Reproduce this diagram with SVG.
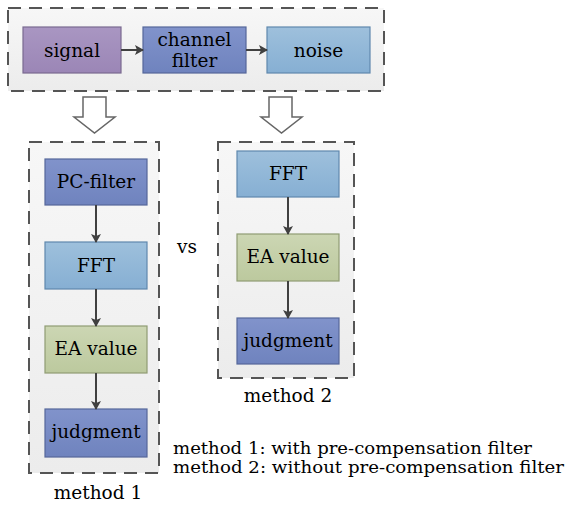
<svg xmlns="http://www.w3.org/2000/svg" width="565" height="506" viewBox="0 0 565 506">
<defs>
<linearGradient id="gBg" x1="0" y1="0" x2="0" y2="1"><stop offset="0" stop-color="#f7f7f7"/><stop offset="1" stop-color="#ececec"/></linearGradient>
<linearGradient id="gPurple" x1="0" y1="0" x2="0" y2="1"><stop offset="0" stop-color="#a996c2"/><stop offset="1" stop-color="#9b86b6"/></linearGradient>
<linearGradient id="gBlue" x1="0" y1="0" x2="0" y2="1"><stop offset="0" stop-color="#8193cb"/><stop offset="1" stop-color="#6f83be"/></linearGradient>
<linearGradient id="gLight" x1="0" y1="0" x2="0" y2="1"><stop offset="0" stop-color="#9ec0dc"/><stop offset="1" stop-color="#86afd3"/></linearGradient>
<linearGradient id="gGreen" x1="0" y1="0" x2="0" y2="1"><stop offset="0" stop-color="#ccd6b3"/><stop offset="1" stop-color="#bcc99e"/></linearGradient>
<marker id="arr" markerWidth="10" markerHeight="10" refX="8" refY="5" orient="auto" markerUnits="userSpaceOnUse"><path d="M0,0 L9,5 L0,10 L2,5 Z" fill="#404040"/></marker>
<style>
.cont{fill:url(#gBg);stroke:#555;stroke-width:2;stroke-dasharray:13 8}
.box{stroke-width:1.2}
.purple{fill:url(#gPurple);stroke:#7a6a90}
.blue{fill:url(#gBlue);stroke:#55679a}
.light{fill:url(#gLight);stroke:#5f88ad}
.green{fill:url(#gGreen);stroke:#8f9c73}
.t{font-family:"DejaVu Serif","Liberation Serif",serif;font-size:18.5px;fill:#000;text-anchor:middle}
.lab{font-family:"DejaVu Serif","Liberation Serif",serif;font-size:16px;fill:#000}
.conn{stroke:#404040;stroke-width:2;fill:none;marker-end:url(#arr)}
.hollow{fill:#fff;stroke:#666;stroke-width:1.5}
</style>
</defs>
<rect x="8" y="8" width="376" height="83" class="cont"/>
<rect x="29" y="142" width="130" height="331" class="cont"/>
<rect x="218" y="142" width="136" height="236" class="cont"/>
<g id="signal"><rect x="23" y="27" width="98" height="46" class="box purple"/><text x="72" y="57" class="t">signal</text></g>
<g id="channel"><rect x="143" y="27" width="103" height="46" class="box blue"/><text x="194.5" y="46" class="t">channel</text><text x="194.5" y="67" class="t">filter</text></g>
<g id="noise"><rect x="267" y="27" width="103" height="46" class="box light"/><text x="318.5" y="57" class="t">noise</text></g>
<g id="pcfilter"><rect x="45" y="159" width="102" height="46" class="box blue"/><text x="96" y="188" class="t">PC-filter</text></g>
<g id="fft1"><rect x="45" y="242" width="102" height="47" class="box light"/><text x="96" y="272" class="t">FFT</text></g>
<g id="ea1"><rect x="45" y="326" width="102" height="47" class="box green"/><text x="96" y="355" class="t">EA value</text></g>
<g id="judg1"><rect x="45" y="409" width="102" height="48" class="box blue"/><text x="96" y="438" class="t">judgment</text></g>
<g id="fft2"><rect x="237" y="151" width="102" height="46" class="box light"/><text x="288" y="180" class="t">FFT</text></g>
<g id="ea2"><rect x="237" y="234" width="102" height="47" class="box green"/><text x="288" y="263" class="t">EA value</text></g>
<g id="judg2"><rect x="237" y="318" width="102" height="46" class="box blue"/><text x="288" y="347" class="t">judgment</text></g>
<g id="hollow1"><path d="M83,97 H106 V117 H115 L94.5,133 L74,117 H83 Z" class="hollow"/></g>
<g id="hollow2"><path d="M269,97 H292 V117 H302 L281.5,133 L261,117 H269 Z" class="hollow"/></g>
<g id="connectors">
<line x1="121" y1="50" x2="143" y2="50" class="conn"/>
<line x1="246" y1="50" x2="267" y2="50" class="conn"/>
<line x1="96" y1="205" x2="96" y2="242" class="conn"/>
<line x1="96" y1="289" x2="96" y2="326" class="conn"/>
<line x1="96" y1="373" x2="96" y2="409" class="conn"/>
<line x1="288" y1="197" x2="288" y2="234" class="conn"/>
<line x1="288" y1="281" x2="288" y2="318" class="conn"/>
</g>
<text x="187" y="253" class="t">vs</text>
<text x="98" y="499" class="t">method 1</text>
<text x="288" y="402" class="t">method 2</text>
<text x="173" y="454" class="lab" textLength="359" lengthAdjust="spacingAndGlyphs">method 1: with pre-compensation filter</text>
<text x="173" y="473" class="lab" textLength="391" lengthAdjust="spacingAndGlyphs">method 2: without pre-compensation filter</text>
</svg>
